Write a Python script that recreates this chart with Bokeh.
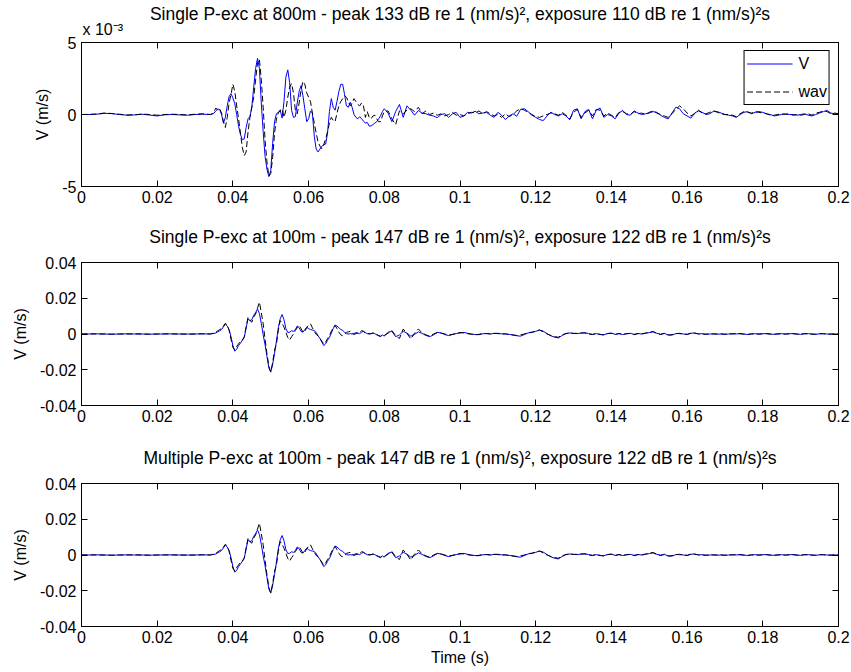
import numpy as np
from bokeh.plotting import figure
from bokeh.models import (Range1d, FixedTicker, LinearAxis, Legend, LegendItem,
                          NumeralTickFormatter, Title)
from bokeh.layouts import column
from bokeh.embed import file_html
from bokeh.resources import INLINE

# ---------------- data (velocities in units of 1e-3 m/s) ----------------
# time grid segments: head 0..0.032 step 0.002, burst 0.034.. step 0.0005, tail 0.080.. step 0.001
T_HEAD0, T_HEAD_STEP = 0.0, 0.002
T_BURST0, T_BURST_STEP = 0.034, 0.0005
T_TAIL0, T_TAIL_STEP = 0.080, 0.001

# Panel 1: 800 m, V (blue)
v800_head = [0, 0, 0.02, 0.08, 0.06, 0.0, -0.05, -0.03, 0.02, -0.04, -0.1, -0.02, 0.0, -0.03, -0.05, 0.0, 0.02]
v800_burst = [0.0, 0.02, 0.1, 0.25, 0.38, 0.35, 0.0, -0.6, -0.2, 0.6,
              1.25, 1.45, 1.15, 0.75, 0.0, -0.8, -1.4, -1.75, -1.7, -0.9,
              -0.3, -0.15, 0.5, 1.9, 3.2, 3.9, 3.2, 0.8, -1.2, -2.9,
              -3.8, -4.3, -3.9, -2.0, -0.5, 0.05, 0.15, 0.3, -0.25, 0.9,
              2.6, 3.1, 2.2, 0.3, -0.2, -0.15, 0.8, 1.6, 2.0, 1.3,
              0.4, -0.5, -0.3, 0.25, 0.1, -1.5, -2.4, -2.6, -2.4, -2.2,
              -2.1, -2.05, -1.3, 0.2, 1.1, 0.5, 0.3, 0.9, 1.6, 2.1,
              2.1, 1.4, 0.6, 0.5, 0.85, 0.5, 0.0, -0.2, -0.3, -0.15,
              -0.3, -0.45, -0.6, -0.55, -0.8, -0.8, -0.7, -0.6, -0.5, -0.3,
              -0.1, 0.2]
v800_tail = [0.4, 0.1, -0.5, 0.2, 0.7, -0.2, 0.6, 0.3, -0.05, 0.28,
             0.1, 0.05, -0.05, -0.1, -0.22, 0.0, 0.05, -0.2, 0.05, 0.15,
             -0.2, -0.1, 0.15, 0.1, 0.23, 0.05, 0.1, 0.15, -0.05, -0.2,
             0.15, -0.05, -0.35, -0.1, 0.05, -0.12, 0.35, 0.4, 0.2, -0.05,
             -0.2, -0.35, -0.42, -0.1, 0.16, 0.0, -0.1, 0.05, -0.1, -0.37,
             0.3, 0.4, -0.3, 0.2, 0.35, -0.3, 0.3, 0.45, -0.2, 0.0,
             -0.1, -0.3, 0.1, 0.28, 0.0, -0.05, 0.25, 0.1, 0.0, 0.05,
             0.1, 0.2, 0.15, -0.05, -0.2, -0.3, 0.1, 0.5, 0.4, 0.05,
             -0.1, -0.25, 0.1, 0.25, 0.15, 0.0, 0.05, 0.23, 0.2, 0.1,
             0.0, -0.05, -0.1, -0.2, 0.0, 0.15, 0.2, 0.05, 0.15, 0.2,
             0.15, 0.05, 0.0, -0.1, -0.05, 0.0, 0.05, 0.0, 0.0, -0.05,
             0.0, 0.05, -0.05, -0.1, 0.0, 0.1, 0.2, 0.28, 0.1, 0.05,
             0.05]

# Panel 1: 800 m, wav (black dashed)
w800_head = [0, 0.01, 0.03, 0.1, 0.07, 0.02, -0.03, -0.02, 0.03, 0.0, -0.05, 0.0, 0.02, 0.0, -0.03, 0.02, 0.05]
w800_burst = [0.0, 0.05, 0.2, 0.45, 0.3, 0.4, 0.1, -0.5, -0.9, -0.2,
              0.8, 1.4, 2.1, 1.6, 0.6, -0.3, -1.3, -2.3, -2.85, -2.6,
              -1.2, -0.2, 0.5, 1.2, 2.4, 3.6, 3.85, 2.4, 0.5, -1.8,
              -3.3, -4.3, -4.1, -3.0, -1.3, -0.3, 0.1, 0.3, 0.4, -0.2,
              0.3, 1.2, 1.9, 2.15, 1.5, 0.3, 0.05, 0.8, 1.7, 2.3,
              2.1, 1.5, 1.2, 0.9, 0.1, -0.6, -1.3, -1.9, -2.2, -2.38,
              -2.1, -1.7, -1.2, -0.6, -0.2, -0.4, -0.5, 0.1, 0.6, 0.9,
              1.1, 1.3, 1.2, 0.9, 0.6, 0.8, 1.1, 0.9, 0.7, 0.6,
              0.8, 0.6, -0.2, 0.2, -0.2, -0.3, -0.1, -0.05, -0.3, -0.5,
              -0.5, -0.1]
w800_tail = [0.2, 0.25, -0.3, -0.7, 0.25, 0.05, 0.3, 0.4, 0.2, 0.5,
             0.05, 0.25, 0.0, 0.1, -0.05, 0.05, -0.1, 0.0, 0.15, -0.05,
             0.0, -0.1, 0.05, 0.15, 0.1, 0.25, 0.05, 0.2, 0.05, -0.1,
             0.0, -0.2, 0.05, -0.15, 0.0, 0.25, 0.4, 0.3, 0.15, 0.0,
             -0.15, -0.2, -0.1, 0.0, 0.1, 0.05, -0.05, 0.15, -0.05, -0.3,
             0.15, 0.35, -0.2, 0.1, 0.3, -0.1, 0.35, 0.3, -0.1, 0.1,
             -0.05, -0.2, 0.15, 0.2, 0.05, 0.0, 0.2, 0.05, 0.1, 0.0,
             0.15, 0.25, 0.1, 0.0, -0.1, -0.2, 0.05, 0.35, 0.6, 0.4,
             0.1, -0.1, 0.05, 0.3, 0.1, 0.05, 0.15, 0.25, 0.15, 0.05,
             0.0, 0.0, -0.05, -0.15, 0.05, 0.2, 0.15, 0.1, 0.2, 0.15,
             0.1, 0.05, -0.05, -0.05, 0.0, 0.05, 0.0, 0.05, -0.05, 0.0,
             -0.05, 0.0, 0.05, -0.05, 0.1, 0.15, 0.25, 0.2, 0.05, 0.1,
             0.05]

# Panels 2 and 3: 100 m, V (blue)
v100_head = [0, 0, 0.1, 0, -0.1, 0, 0.1, 0, 0, -0.1, 0, 0, 0.1, 0, 0, 0, 0.1]
v100_burst = [0.0, 0.2, 0.3, 0.6, 1.2, 1.8, 2.5, 4.0, 5.5, 4.5,
              2.5, -1.5, -6.5, -9.6, -8.5, -6.5, -5.0, -3.5, -2.0, 3.5,
              8.5, 7.5, 8.0, 10.5, 12.0, 14.0, 11.5, 6.0, -0.5, -6.0,
              -12.5, -19.0, -21.3, -17.0, -11.0, -4.0, 3.5, 8.5, 10.9, 8.0,
              3.0, 0.8, 1.0, 1.8, 1.5, 2.5, 4.5, 3.5, 1.5, 1.0,
              2.5, 3.8, 3.0, 2.5, 2.2, 2.0, 0.8, -1.0, -2.5, -4.5,
              -6.5, -5.5, -3.5, -2.0, 0.5, 3.0, 5.0, 4.5, 3.5, 2.5,
              2.0, 1.0, 0.2, 0.0, 0.2, 0.0, 0.3, 0.8, 0.5, 0.2,
              1.0, 1.5, 0.8, 0.2, 0.0, 0.2, 0.5, 0.2, -0.5, -1.0,
              -1.5, -0.5]
v100_tail = [-1.2, 1.0, 1.5, -1.5, -0.5, 1.5, 0.5, -1.2, -0.2, 1.2,
             0.3, -0.8, -1.5, -0.5, 0.9, 0.6, -0.3, -0.9, -0.3, 0.2,
             0.6, 0.9, 0.4, 0.0, -0.3, -0.4, 0.1, 0.3, 0.0, 0.3,
             0.4, 0.1, 0.0, -0.2, -0.5, -1.0, -1.2, -0.3, 0.6, 0.9,
             1.5, 2.2, 1.6, 0.2, -1.0, -1.8, -2.2, -0.8, 0.2, 0.6,
             0.4, 0.2, 0.5, 0.8, 0.2, -0.2, 0.2, -0.3, -0.4, 0.3,
             0.5, -0.2, 0.2, -0.3, 0.1, 0.4, -0.2, 0.3, 0.0, 0.4,
             0.8, 1.2, 0.4, -0.1, 0.3, -0.5, -0.6, 0.2, 0.4, 0.0,
             -0.3, 0.4, 0.6, 0.0, 0.2, -0.2, 0.0, 0.1, -0.1, 0.0,
             -0.2, 0.0, 0.2, 0.0, 0.3, 0.0, -0.3, 0.0, 0.2, -0.1,
             0.1, 0.3, 0.0, -0.2, 0.0, 0.2, -0.1, 0.1, 0.3, 0.0,
             -0.2, 0.1, 0.2, 0.0, -0.2, 0.1, 0.2, 0.0, -0.1, 0.0,
             0.0]

# Panels 2 and 3: 100 m, wav (black dashed)
w100_head = [0, 0.1, 0, 0, -0.1, 0, 0, 0.1, 0, -0.1, 0, 0.1, 0, 0, -0.1, 0, 0.1]
w100_burst = [0.0, 0.3, 0.5, 1.0, 1.8, 2.5, 3.0, 4.5, 6.0, 5.0,
              2.0, -3.0, -7.5, -8.9, -7.0, -5.5, -4.0, -3.4, -1.5, 4.0,
              9.4, 7.5, 6.6, 9.5, 11.2, 14.5, 17.8, 12.0, 5.7, -3.0,
              -11.0, -18.0, -21.3, -16.0, -9.0, -5.6, 2.0, 7.5, 6.0, 3.8,
              1.0, -2.0, -3.4, -1.5, 0.0, 2.0, 3.5, 4.8, 3.0, 1.0,
              1.5, 3.5, 5.0, 5.7, 3.5, 1.5, -0.2, -1.0, -2.5, -4.0,
              -5.7, -4.5, -2.5, -1.0, 1.5, 3.5, 4.8, 3.0, 1.0, -0.5,
              -1.0, 0.0, 0.9, 1.2, 1.5, 0.5, -0.3, 0.2, 0.5, 0.8,
              1.9, 1.5, 0.5, 0.0, 0.3, 0.1, 0.6, 0.3, -0.3, -0.8,
              -1.2, -0.4]
w100_tail = [-0.8, 0.5, 2.0, -1.0, -2.5, 2.8, 0.3, -2.8, 0.5, 2.8,
             0.6, -0.5, -1.2, 0.0, 0.8, 0.5, 0.0, -0.6, -0.2, 0.4,
             0.8, 0.6, 0.2, -0.2, -0.4, -0.2, 0.3, 0.2, 0.1, 0.4,
             0.2, 0.0, 0.1, -0.3, -0.6, -0.8, -0.5, 0.0, 0.8, 1.0,
             1.6, 2.2, 1.2, 0.0, -0.8, -1.5, -1.8, -0.5, 0.3, 0.5,
             0.3, 0.4, 0.6, 0.5, 0.0, -0.3, 0.3, -0.2, -0.6, 0.2,
             0.4, -0.3, 0.3, -0.2, 0.2, 0.3, -0.4, 0.2, 0.1, 0.5,
             1.0, 1.4, 0.3, -0.3, 0.4, -0.6, -0.4, 0.3, 0.2, 0.1,
             -0.2, 0.5, 0.4, 0.1, 0.0, -0.1, 0.1, 0.0, 0.0, 0.1,
             -0.1, 0.1, 0.0, 0.2, 0.1, -0.1, -0.2, 0.1, 0.0, 0.0,
             0.2, 0.1, -0.1, -0.1, 0.1, 0.1, 0.0, 0.2, 0.1, -0.1,
             -0.1, 0.2, 0.1, -0.1, -0.1, 0.2, 0.1, -0.1, 0.0, 0.1,
             0.0]

x_ticks = [0, 0.02, 0.04, 0.06, 0.08, 0.1, 0.12, 0.14, 0.16, 0.18, 0.2]
y_ticks_800 = [-5, 0, 5]            # shown with x 10^-3 multiplier
y_ticks_100 = [-0.04, -0.02, 0, 0.02, 0.04]

titles = [
    "Single P-exc at 800m - peak 133 dB re 1 (nm/s)\u00b2, exposure 110 dB re 1 (nm/s)\u00b2s",
    "Single P-exc at 100m - peak 147 dB re 1 (nm/s)\u00b2, exposure 122 dB re 1 (nm/s)\u00b2s",
    "Multiple P-exc at 100m - peak 147 dB re 1 (nm/s)\u00b2, exposure 122 dB re 1 (nm/s)\u00b2s",
]
legend_labels = ["V", "wav"]
y_label = "V (m/s)"
x_label = "Time (s)"
exp_text = "x 10\u207b\u00b3"

# ---------------- helpers ----------------
FONT = "Liberation Sans"
FS = "16px"
TITLE_FS = "17.5px"
BLUE = "#0000ff"
DASH = "6 3"
W = 851


def series(head, burst, tail, scale):
    t = np.concatenate([T_HEAD0 + T_HEAD_STEP * np.arange(len(head)),
                        T_BURST0 + T_BURST_STEP * np.arange(len(burst)),
                        T_TAIL0 + T_TAIL_STEP * np.arange(len(tail))])
    v = np.concatenate([head, burst, tail]) * scale
    return t, v


def blank_axis(ticks):
    return LinearAxis(ticker=FixedTicker(ticks=ticks), major_label_text_font_size="0px",
                      major_label_text_color=None, major_label_standoff=0,
                      major_tick_in=6, major_tick_out=0, minor_tick_line_color=None,
                      axis_line_color="black", major_tick_line_color="black")


def make_title(text, align="center", offset=0, standoff=0, size=TITLE_FS):
    return Title(text=text, align=align, offset=offset, standoff=standoff, text_font=FONT,
                 text_font_size=size, text_font_style="normal", text_color="black")


def panel(height, top, bottom, yr, yticks, yfmt):
    p = figure(width=W, height=height, x_range=Range1d(0, 0.2), y_range=Range1d(*yr),
               output_backend="svg", toolbar_location=None, title=None,
               min_border_left=81, min_border_right=13,
               min_border_top=top, min_border_bottom=bottom)
    p.xgrid.visible = False
    p.ygrid.visible = False
    p.outline_line_color = "black"
    p.outline_line_alpha = 1.0
    p.background_fill_color = "white"
    p.border_fill_color = "white"

    xa = p.below[0]
    xa.ticker = FixedTicker(ticks=x_ticks)
    xa.formatter = NumeralTickFormatter(format="0.[00]")
    ya = p.left[0]
    ya.ticker = FixedTicker(ticks=yticks)
    ya.formatter = NumeralTickFormatter(format=yfmt)
    ya.axis_label = y_label
    ya.axis_label_standoff = 8
    for ax in (xa, ya):
        ax.major_label_text_font = FONT
        ax.major_label_text_font_size = FS
        ax.major_label_text_color = "black"
        ax.axis_label_text_font = FONT
        ax.axis_label_text_font_size = FS
        ax.axis_label_text_font_style = "normal"
        ax.axis_label_text_color = "black"
        ax.major_tick_in = 6
        ax.major_tick_out = 0
        ax.minor_tick_line_color = None
        ax.axis_line_color = "black"
        ax.major_tick_line_color = "black"
    xa.major_label_standoff = 4
    ya.major_label_standoff = 5

    p.add_layout(blank_axis(x_ticks), "above")
    p.add_layout(blank_axis(yticks), "right")
    return p


def add_lines(p, vh, vb, vt, wh, wb, wt, scale):
    tv, vv = series(vh, vb, vt, scale)
    tw, vw = series(wh, wb, wt, scale)
    r1 = p.line(tv, vv, line_color=BLUE, line_width=1)
    r2 = p.line(tw, vw, line_color="black", line_width=1, line_dash=DASH)
    return r1, r2


# ---------------- panel 1 ----------------
p1 = panel(209, 42, 23, (-5, 5), y_ticks_800, "0")
r1, r2 = add_lines(p1, v800_head, v800_burst, v800_tail, w800_head, w800_burst, w800_tail, 1.0)
try:
    t_exp = make_title(exp_text, align="left", offset=1, standoff=10, size=FS)
    t_main = make_title(titles[0], standoff=-20)
except Exception:
    t_exp = make_title(exp_text, align="left", offset=1, standoff=0, size=FS)
    t_main = make_title(titles[0], standoff=0)
p1.add_layout(t_exp, "above")
p1.add_layout(t_main, "above")
leg = Legend(items=[LegendItem(label=legend_labels[0], renderers=[r1]),
                    LegendItem(label=legend_labels[1], renderers=[r2])],
             location="top_right", margin=8, padding=2, spacing=7,
             glyph_width=46, glyph_height=21, label_height=21, label_standoff=6,
             label_width=20,
             label_text_font=FONT, label_text_font_size=FS, label_text_color="black",
             border_line_color="black", border_line_width=1, border_line_alpha=1.0,
             background_fill_color="white", background_fill_alpha=1.0)
p1.add_layout(leg)

# ---------------- panel 2 ----------------
p2 = panel(220, 53, 24, (-0.04, 0.04), y_ticks_100, "0.[00]")
add_lines(p2, v100_head, v100_burst, v100_tail, w100_head, w100_burst, w100_tail, 1e-3)
p2.add_layout(make_title(titles[1], standoff=31), "above")

# ---------------- panel 3 ----------------
p3 = panel(243, 54, 46, (-0.04, 0.04), y_ticks_100, "0.[00]")
add_lines(p3, v100_head, v100_burst, v100_tail, w100_head, w100_burst, w100_tail, 1e-3)
p3.add_layout(make_title(titles[2], standoff=31), "above")
p3.below[0].axis_label = x_label
p3.below[0].axis_label_standoff = 3

layout = column(p1, p2, p3, spacing=0)
open("out.html", "w").write(file_html(layout, INLINE))
